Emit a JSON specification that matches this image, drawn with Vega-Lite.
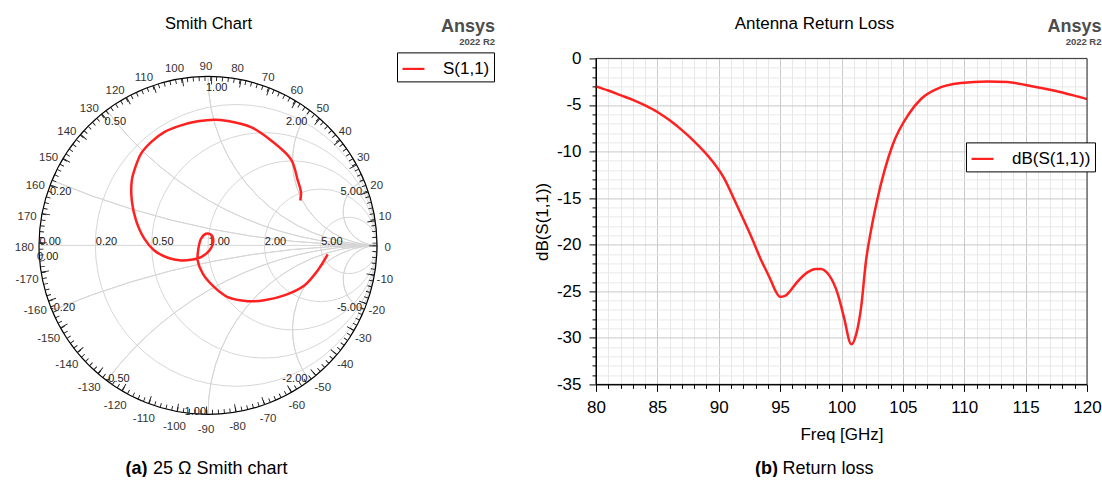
{
  "$schema": "https://vega.github.io/schema/vega-lite/v6.json",
  "padding": {"left": 14, "top": 14.4, "right": 0, "bottom": 0},
  "bounds": "flush",
  "spacing": 219,
  "config": {
    "font": "Liberation Sans",
    "view": {"stroke": null},
    "axis": {"labelFont": "Liberation Sans", "titleFont": "Liberation Sans"},
    "legend": {"labelFont": "Liberation Sans"},
    "text": {"font": "Liberation Sans"}
  },
  "resolve": {"scale": {"color": "independent"}, "legend": {"color": "independent"}},
  "datasets": {
    "smith": [
      {"n": 1, "gx": 0.708, "gy": -0.053},
      {"n": 2, "gx": 0.649, "gy": -0.148},
      {"n": 3, "gx": 0.570, "gy": -0.237},
      {"n": 4, "gx": 0.451, "gy": -0.296},
      {"n": 5, "gx": 0.333, "gy": -0.325},
      {"n": 6, "gx": 0.235, "gy": -0.330},
      {"n": 7, "gx": 0.117, "gy": -0.306},
      {"n": 8, "gx": 0.037, "gy": -0.247},
      {"n": 9, "gx": -0.031, "gy": -0.167},
      {"n": 10, "gx": -0.061, "gy": -0.089},
      {"n": 11, "gx": -0.057, "gy": -0.020},
      {"n": 12, "gx": -0.041, "gy": 0.040},
      {"n": 13, "gx": -0.012, "gy": 0.069},
      {"n": 14, "gx": 0.018, "gy": 0.063},
      {"n": 15, "gx": 0.031, "gy": 0.020},
      {"n": 16, "gx": 0.008, "gy": -0.030},
      {"n": 17, "gx": -0.041, "gy": -0.069},
      {"n": 18, "gx": -0.101, "gy": -0.085},
      {"n": 19, "gx": -0.160, "gy": -0.089},
      {"n": 20, "gx": -0.238, "gy": -0.073},
      {"n": 21, "gx": -0.318, "gy": -0.030},
      {"n": 22, "gx": -0.377, "gy": 0.040},
      {"n": 23, "gx": -0.426, "gy": 0.148},
      {"n": 24, "gx": -0.451, "gy": 0.266},
      {"n": 25, "gx": -0.451, "gy": 0.385},
      {"n": 26, "gx": -0.436, "gy": 0.444},
      {"n": 27, "gx": -0.396, "gy": 0.543},
      {"n": 28, "gx": -0.337, "gy": 0.611},
      {"n": 29, "gx": -0.259, "gy": 0.670},
      {"n": 30, "gx": -0.160, "gy": 0.710},
      {"n": 31, "gx": -0.061, "gy": 0.734},
      {"n": 32, "gx": 0.037, "gy": 0.744},
      {"n": 33, "gx": 0.117, "gy": 0.736},
      {"n": 34, "gx": 0.254, "gy": 0.700},
      {"n": 35, "gx": 0.373, "gy": 0.621},
      {"n": 36, "gx": 0.491, "gy": 0.509},
      {"n": 37, "gx": 0.531, "gy": 0.385},
      {"n": 38, "gx": 0.550, "gy": 0.315},
      {"n": 39, "gx": 0.546, "gy": 0.266}
    ],
    "rl": [
      {"f": 80.0, "db": -3.0},
      {"f": 81.0, "db": -3.45},
      {"f": 82.0, "db": -3.95},
      {"f": 83.0, "db": -4.45},
      {"f": 84.0, "db": -5.05},
      {"f": 85.0, "db": -5.75},
      {"f": 86.0, "db": -6.65},
      {"f": 87.0, "db": -7.7},
      {"f": 88.0, "db": -8.9},
      {"f": 89.4, "db": -10.9},
      {"f": 90.45, "db": -12.9},
      {"f": 91.3, "db": -15.25},
      {"f": 92.6, "db": -19.0},
      {"f": 93.4, "db": -21.5},
      {"f": 94.25, "db": -23.85},
      {"f": 94.6, "db": -24.9},
      {"f": 95.0, "db": -25.6},
      {"f": 95.4, "db": -25.5},
      {"f": 95.8, "db": -25.0},
      {"f": 96.4, "db": -24.0},
      {"f": 97.25, "db": -22.95},
      {"f": 97.9, "db": -22.6},
      {"f": 98.3, "db": -22.6},
      {"f": 99.0, "db": -23.3},
      {"f": 99.7, "db": -25.3},
      {"f": 100.2, "db": -27.8},
      {"f": 100.8, "db": -30.7},
      {"f": 101.2, "db": -29.6},
      {"f": 101.6, "db": -26.7},
      {"f": 102.0, "db": -21.7},
      {"f": 102.4, "db": -18.5},
      {"f": 102.9, "db": -15.25},
      {"f": 104.15, "db": -9.35},
      {"f": 105.5, "db": -5.94},
      {"f": 106.5, "db": -4.33},
      {"f": 107.8, "db": -3.26},
      {"f": 109.7, "db": -2.65},
      {"f": 111.9, "db": -2.47},
      {"f": 113.5, "db": -2.54},
      {"f": 115.2, "db": -2.9},
      {"f": 117.3, "db": -3.44},
      {"f": 118.9, "db": -3.97},
      {"f": 120.0, "db": -4.37}
    ],
    "angles": [
      {"a": -170, "t": "-170"}, {"a": -160, "t": "-160"}, {"a": -150, "t": "-150"}, {"a": -140, "t": "-140"},
      {"a": -130, "t": "-130"}, {"a": -120, "t": "-120"}, {"a": -110, "t": "-110"}, {"a": -100, "t": "-100"},
      {"a": -90, "t": "-90"}, {"a": -80, "t": "-80"}, {"a": -70, "t": "-70"}, {"a": -60, "t": "-60"},
      {"a": -50, "t": "-50"}, {"a": -40, "t": "-40"}, {"a": -30, "t": "-30"}, {"a": -20, "t": "-20"},
      {"a": -10, "t": "-10"}, {"a": 0, "t": "0"}, {"a": 10, "t": "10"}, {"a": 20, "t": "20"},
      {"a": 30, "t": "30"}, {"a": 40, "t": "40"}, {"a": 50, "t": "50"}, {"a": 60, "t": "60"},
      {"a": 70, "t": "70"}, {"a": 80, "t": "80"}, {"a": 90, "t": "90"}, {"a": 100, "t": "100"},
      {"a": 110, "t": "110"}, {"a": 120, "t": "120"}, {"a": 130, "t": "130"}, {"a": 140, "t": "140"},
      {"a": 150, "t": "150"}, {"a": 160, "t": "160"}, {"a": 170, "t": "170"}, {"a": 180, "t": "180"}
    ],
    "slabels": [
      {"s": "r", "gx": -1, "gy": 0, "t": "0.00"},
      {"s": "r", "gx": -0.66667, "gy": 0, "t": "0.20"},
      {"s": "r", "gx": -0.33333, "gy": 0, "t": "0.50"},
      {"s": "r", "gx": 0, "gy": 0, "t": "1.00"},
      {"s": "r", "gx": 0.33333, "gy": 0, "t": "2.00"},
      {"s": "r", "gx": 0.66667, "gy": 0, "t": "5.00"},
      {"s": "pl", "gx": -1, "gy": 0, "t": "0.00"},
      {"s": "pl", "gx": -0.92308, "gy": 0.38462, "t": "0.20"},
      {"s": "pl", "gx": -0.6, "gy": 0.8, "t": "0.50"},
      {"s": "pl", "gx": 0, "gy": 1, "t": "1.00"},
      {"s": "pr", "gx": 0.6, "gy": 0.8, "t": "2.00"},
      {"s": "pr", "gx": 0.92308, "gy": 0.38462, "t": "5.00"},
      {"s": "nl", "gx": -0.92308, "gy": -0.38462, "t": "-0.20"},
      {"s": "nl", "gx": -0.6, "gy": -0.8, "t": "-0.50"},
      {"s": "nr", "gx": 0, "gy": -1, "t": "-1.00"},
      {"s": "nr", "gx": 0.6, "gy": -0.8, "t": "-2.00"},
      {"s": "nr", "gx": 0.92308, "gy": -0.38462, "t": "-5.00"}
    ]
  },
  "hconcat": [
    {
      "width": 338,
      "height": 356,
      "resolve": {"axis": {"x": "independent", "y": "independent"}},
      "layer": [
        {
          "data": {"values": [
            {"cx": 0.16667, "cy": 0, "rad": 0.83333},
            {"cx": 0.33333, "cy": 0, "rad": 0.66667},
            {"cx": 0.5, "cy": 0, "rad": 0.5},
            {"cx": 0.66667, "cy": 0, "rad": 0.33333},
            {"cx": 0.83333, "cy": 0, "rad": 0.16667}
          ]},
          "mark": {"type": "point", "shape": "circle", "filled": false, "color": "#d6d6d6", "strokeWidth": 1, "opacity": 1},
          "encoding": {
            "x": {"field": "cx", "type": "quantitative", "scale": {"domain": [-1, 1], "nice": false, "zero": false},
              "axis": {"orient": "top", "domain": false, "ticks": false, "labels": false, "grid": false, "title": "Smith Chart", "titleX": 169, "titleY": -29.5, "titleAlign": "center", "titleBaseline": "alphabetic", "titleAngle": 0, "titleFontSize": 16.5, "titleFontWeight": "normal", "titleColor": "#000"}},
            "y": {"field": "cy", "type": "quantitative", "scale": {"domain": [-1, 1.10651], "nice": false, "zero": false}, "axis": null},
            "size": {"field": "rad", "type": "quantitative", "scale": {"type": "pow", "exponent": 2, "domain": [0, 1], "range": [0, 114244]}, "legend": null}
          }
        },
        {
          "data": {"values": [{}]},
          "mark": {"type": "rule", "color": "#d6d6d6", "strokeWidth": 1},
          "encoding": {
            "x": {"datum": -1, "type": "quantitative", "scale": {"domain": [-1, 1], "nice": false, "zero": false}, "axis": null},
            "x2": {"datum": 1},
            "y": {"datum": 0, "type": "quantitative", "scale": {"domain": [-1, 1.10651], "nice": false, "zero": false}, "axis": null}
          }
        },
        {
          "data": {"values": [
            {"cx": 1, "cy": 5, "rad": 5, "t1": -90, "t2": -112.62},
            {"cx": 1, "cy": 2, "rad": 2, "t1": -90, "t2": -143.13},
            {"cx": 1, "cy": 1, "rad": 1, "t1": -90, "t2": -180},
            {"cx": 1, "cy": 0.5, "rad": 0.5, "t1": -90, "t2": -216.87},
            {"cx": 1, "cy": 0.2, "rad": 0.2, "t1": -90, "t2": -247.38},
            {"cx": 1, "cy": -5, "rad": 5, "t1": 90, "t2": 112.62},
            {"cx": 1, "cy": -2, "rad": 2, "t1": 90, "t2": 143.13},
            {"cx": 1, "cy": -1, "rad": 1, "t1": 90, "t2": 180},
            {"cx": 1, "cy": -0.5, "rad": 0.5, "t1": 90, "t2": 216.87},
            {"cx": 1, "cy": -0.2, "rad": 0.2, "t1": 90, "t2": 247.38}
          ]},
          "mark": {"type": "arc", "filled": false, "color": "#d6d6d6", "strokeWidth": 1},
          "encoding": {
            "x": {"field": "cx", "type": "quantitative", "scale": {"domain": [-1, 1], "nice": false, "zero": false},
              "axis": {"orient": "bottom", "domain": false, "ticks": false, "labels": false, "grid": false, "title": "25 Ω Smith chart", "titleX": 113.5, "titleY": 59, "titleAlign": "left", "titleBaseline": "alphabetic", "titleAngle": 0, "titleFontSize": 18, "titleFontWeight": "normal", "titleColor": "#000"}},
            "y": {"field": "cy", "type": "quantitative", "scale": {"domain": [-1, 1.10651], "nice": false, "zero": false}, "axis": null},
            "theta": {"field": "t1", "type": "quantitative", "stack": null, "scale": {"type": "linear", "domain": [90, -270], "range": [0, 6.283185307179586]}},
            "theta2": {"field": "t2"},
            "radius": {"field": "rad", "type": "quantitative", "scale": {"type": "linear", "domain": [0, 1], "range": [0, 169]}},
            "radius2": {"field": "rad"}
          }
        },
        {
          "data": {"values": [{"cx": 0, "cy": 0, "rad": 1}]},
          "mark": {"type": "point", "shape": "circle", "filled": false, "color": "#000", "strokeWidth": 1.2, "opacity": 1},
          "encoding": {
            "x": {"field": "cx", "type": "quantitative", "scale": {"domain": [-1, 1], "nice": false, "zero": false},
              "axis": {"orient": "top", "domain": false, "ticks": false, "labels": false, "grid": false, "title": "Ansys", "titleX": 455.5, "titleY": -26.5, "titleAlign": "right", "titleBaseline": "alphabetic", "titleAngle": 0, "titleFontSize": 18, "titleFontWeight": "bold", "titleColor": "#4d4d4d"}},
            "y": {"field": "cy", "type": "quantitative", "scale": {"domain": [-1, 1.10651], "nice": false, "zero": false}, "axis": null},
            "size": {"field": "rad", "type": "quantitative", "scale": {"type": "pow", "exponent": 2, "domain": [0, 1], "range": [0, 114244]}, "legend": null}
          }
        },
        {
          "data": {"values": [{"cx": 0, "cy": 0}]},
          "mark": {"type": "point", "shape": "circle", "filled": false, "color": "#1a1a1a", "strokeWidth": 4.5, "strokeDash": [0.9, 4.9355], "opacity": 1},
          "encoding": {
            "x": {"field": "cx", "type": "quantitative", "scale": {"domain": [-1, 1], "nice": false, "zero": false},
              "axis": {"orient": "top", "domain": false, "ticks": false, "labels": false, "grid": false, "title": "2022 R2", "titleX": 455.5, "titleY": -14, "titleAlign": "right", "titleBaseline": "alphabetic", "titleAngle": 0, "titleFontSize": 9.5, "titleFontWeight": "bold", "titleColor": "#4d4d4d"}},
            "y": {"field": "cy", "type": "quantitative", "scale": {"domain": [-1, 1.10651], "nice": false, "zero": false}, "axis": null},
            "size": {"datum": 0.98669, "type": "quantitative", "scale": {"type": "pow", "exponent": 2, "domain": [0, 1], "range": [0, 114244]}, "legend": null}
          }
        },
        {
          "data": {"values": [{"cx": 0, "cy": 0}]},
          "mark": {"type": "point", "shape": "circle", "filled": false, "color": "#1a1a1a", "strokeWidth": 8, "strokeDash": [0.9, 28.0123], "opacity": 1},
          "encoding": {
            "x": {"field": "cx", "type": "quantitative", "scale": {"domain": [-1, 1], "nice": false, "zero": false},
              "axis": {"orient": "bottom", "domain": false, "ticks": false, "labels": false, "grid": false, "title": "(a)", "titleX": 86, "titleY": 59, "titleAlign": "left", "titleBaseline": "alphabetic", "titleAngle": 0, "titleFontSize": 18, "titleFontWeight": "bold", "titleColor": "#000"}},
            "y": {"field": "cy", "type": "quantitative", "scale": {"domain": [-1, 1.10651], "nice": false, "zero": false}, "axis": null},
            "size": {"datum": 0.976331, "type": "quantitative", "scale": {"type": "pow", "exponent": 2, "domain": [0, 1], "range": [0, 114244]}, "legend": null}
          }
        },
        {
          "data": {"name": "angles"},
          "mark": {"type": "text", "fontSize": 11.5, "color": "#333", "align": "center", "baseline": "middle", "dx": -2, "dy": 3},
          "encoding": {
            "x": {"datum": 0, "type": "quantitative", "scale": {"domain": [-1, 1], "nice": false, "zero": false}, "axis": null},
            "y": {"datum": 0, "type": "quantitative", "scale": {"domain": [-1, 1.10651], "nice": false, "zero": false}, "axis": null},
            "theta": {"field": "a", "type": "quantitative", "stack": null, "scale": {"type": "linear", "domain": [90, -270], "range": [0, 6.283185307179586]}},
            "radius": {"datum": 1.075, "type": "quantitative", "scale": {"type": "linear", "domain": [0, 1], "range": [0, 169]}},
            "text": {"field": "t"}
          }
        },
        {
          "data": {"name": "slabels"},
          "transform": [{"filter": "datum.s == 'r'"}],
          "mark": {"type": "text", "fontSize": 11, "color": "#1a1a1a", "align": "left", "baseline": "alphabetic", "dx": 0.5, "dy": 0},
          "encoding": {
            "x": {"field": "gx", "type": "quantitative", "scale": {"domain": [-1, 1], "nice": false, "zero": false}, "axis": null},
            "y": {"field": "gy", "type": "quantitative", "scale": {"domain": [-1, 1.10651], "nice": false, "zero": false}, "axis": null},
            "text": {"field": "t"}
          }
        },
        {
          "data": {"name": "slabels"},
          "transform": [{"filter": "datum.s == 'pl'"}],
          "mark": {"type": "text", "fontSize": 11, "color": "#1a1a1a", "align": "left", "baseline": "alphabetic", "dx": -2, "dy": 15},
          "encoding": {
            "x": {"field": "gx", "type": "quantitative", "scale": {"domain": [-1, 1], "nice": false, "zero": false}, "axis": null},
            "y": {"field": "gy", "type": "quantitative", "scale": {"domain": [-1, 1.10651], "nice": false, "zero": false}, "axis": null},
            "text": {"field": "t"}
          }
        },
        {
          "data": {"name": "slabels"},
          "transform": [{"filter": "datum.s == 'pr'"}],
          "mark": {"type": "text", "fontSize": 11, "color": "#1a1a1a", "align": "right", "baseline": "alphabetic", "dx": -2, "dy": 15},
          "encoding": {
            "x": {"field": "gx", "type": "quantitative", "scale": {"domain": [-1, 1], "nice": false, "zero": false}, "axis": null},
            "y": {"field": "gy", "type": "quantitative", "scale": {"domain": [-1, 1.10651], "nice": false, "zero": false}, "axis": null},
            "text": {"field": "t"}
          }
        },
        {
          "data": {"name": "slabels"},
          "transform": [{"filter": "datum.s == 'nl'"}],
          "mark": {"type": "text", "fontSize": 11, "color": "#1a1a1a", "align": "left", "baseline": "alphabetic", "dx": -2, "dy": 1},
          "encoding": {
            "x": {"field": "gx", "type": "quantitative", "scale": {"domain": [-1, 1], "nice": false, "zero": false}, "axis": null},
            "y": {"field": "gy", "type": "quantitative", "scale": {"domain": [-1, 1.10651], "nice": false, "zero": false}, "axis": null},
            "text": {"field": "t"}
          }
        },
        {
          "data": {"name": "slabels"},
          "transform": [{"filter": "datum.s == 'nr'"}],
          "mark": {"type": "text", "fontSize": 11, "color": "#1a1a1a", "align": "right", "baseline": "alphabetic", "dx": -2, "dy": 1},
          "encoding": {
            "x": {"field": "gx", "type": "quantitative", "scale": {"domain": [-1, 1], "nice": false, "zero": false}, "axis": null},
            "y": {"field": "gy", "type": "quantitative", "scale": {"domain": [-1, 1.10651], "nice": false, "zero": false}, "axis": null},
            "text": {"field": "t"}
          }
        },
        {
          "data": {"name": "smith"},
          "mark": {"type": "line", "strokeWidth": 2.5, "interpolate": "catmull-rom"},
          "encoding": {
            "x": {"field": "gx", "type": "quantitative", "scale": {"domain": [-1, 1], "nice": false, "zero": false}, "axis": null},
            "y": {"field": "gy", "type": "quantitative", "scale": {"domain": [-1, 1.10651], "nice": false, "zero": false}, "axis": null},
            "order": {"field": "n", "type": "quantitative"},
            "color": {"datum": "S(1,1)", "scale": {"range": ["#ff2020"]},
              "legend": {"orient": "none", "legendX": 358, "legendY": -6, "title": null, "symbolType": "stroke", "symbolStrokeWidth": 2.2, "symbolSize": 480, "labelFontSize": 17, "labelColor": "#000", "labelOffset": 17, "padding": 4, "strokeColor": "#000", "fillColor": "#fff"}}
          }
        }
      ]
    },
    {
      "width": 491,
      "height": 326,
      "resolve": {"axis": {"x": "independent", "y": "independent"}},
      "layer": [
        {
          "data": {"name": "rl"},
          "mark": {"type": "line", "strokeWidth": 2.5, "interpolate": "monotone"},
          "encoding": {
            "x": {"field": "f", "type": "quantitative", "scale": {"domain": [80, 120], "nice": false, "zero": false},
              "axis": {"orient": "bottom", "values": [80,81,82,83,84,85,86,87,88,89,90,91,92,93,94,95,96,97,98,99,100,101,102,103,104,105,106,107,108,109,110,111,112,113,114,115,116,117,118,119,120],
                "labelExpr": "datum.value % 5 == 0 ? '' + datum.value : ''", "labelFontSize": 17, "labelColor": "#000", "labelPadding": 8, "labelFlush": false, "labelOverlap": false,
                "tickSize": {"condition": {"test": "datum.value % 5 == 0", "value": 7}, "value": 4}, "tickColor": "#000", "domainColor": "#000",
                "grid": true, "gridColor": {"condition": {"test": "datum.value % 5 == 0", "value": "#c8c8c8"}, "value": "#e8e8e8"},
                "title": "Freq [GHz]", "titleX": 245.5, "titleY": 55, "titleAlign": "center", "titleBaseline": "alphabetic", "titleFontSize": 17, "titleFontWeight": "normal", "titleColor": "#000"}},
            "y": {"field": "db", "type": "quantitative", "scale": {"domain": [-35, 0], "nice": false, "zero": false},
              "axis": {"orient": "left", "values": [-35,-34,-33,-32,-31,-30,-29,-28,-27,-26,-25,-24,-23,-22,-21,-20,-19,-18,-17,-16,-15,-14,-13,-12,-11,-10,-9,-8,-7,-6,-5,-4,-3,-2,-1,0],
                "labelExpr": "datum.value % 5 == 0 ? '' + datum.value : ''", "labelFontSize": 17, "labelColor": "#000", "labelPadding": 8, "labelFlush": false, "labelOverlap": false,
                "tickSize": {"condition": {"test": "datum.value % 5 == 0", "value": 7}, "value": 4}, "tickColor": "#000", "domainColor": "#000",
                "grid": true, "gridColor": {"condition": {"test": "datum.value % 5 == 0", "value": "#c8c8c8"}, "value": "#e8e8e8"},
                "title": "dB(S(1,1))", "titleX": -54, "titleY": 163, "titleAlign": "center", "titleBaseline": "middle", "titleFontSize": 17, "titleFontWeight": "normal", "titleColor": "#000"}},
            "color": {"datum": "dB(S(1,1))", "scale": {"range": ["#ff2020"]},
              "legend": {"orient": "none", "legendX": 370, "legendY": 84, "title": null, "symbolType": "stroke", "symbolStrokeWidth": 2.2, "symbolSize": 480, "labelFontSize": 17, "labelColor": "#000", "labelOffset": 17, "padding": 4, "strokeColor": "#000", "fillColor": "#fff"}}
          }
        },
        {
          "data": {"values": [{}]},
          "mark": {"type": "rule", "color": "#333", "strokeWidth": 1},
          "encoding": {
            "x": {"datum": 80, "type": "quantitative", "scale": {"domain": [80, 120], "nice": false, "zero": false},
              "axis": {"orient": "top", "domain": false, "ticks": false, "labels": false, "grid": false, "title": "Antenna Return Loss", "titleX": 218, "titleY": -29.5, "titleAlign": "center", "titleBaseline": "alphabetic", "titleAngle": 0, "titleFontSize": 17, "titleFontWeight": "normal", "titleColor": "#000"}},
            "x2": {"datum": 120},
            "y": {"datum": 0, "type": "quantitative", "scale": {"domain": [-35, 0], "nice": false, "zero": false},
              "axis": {"orient": "left", "domain": false, "ticks": false, "labels": false, "grid": false, "title": "2022 R2", "titleX": 505, "titleY": -14, "titleAlign": "right", "titleBaseline": "alphabetic", "titleAngle": 0, "titleFontSize": 9.5, "titleFontWeight": "bold", "titleColor": "#4d4d4d"}}
          }
        },
        {
          "data": {"values": [{}]},
          "mark": {"type": "rule", "color": "#333", "strokeWidth": 1},
          "encoding": {
            "x": {"datum": 120, "type": "quantitative", "scale": {"domain": [80, 120], "nice": false, "zero": false},
              "axis": {"orient": "top", "domain": false, "ticks": false, "labels": false, "grid": false, "title": "Ansys", "titleX": 505, "titleY": -26.5, "titleAlign": "right", "titleBaseline": "alphabetic", "titleAngle": 0, "titleFontSize": 18, "titleFontWeight": "bold", "titleColor": "#4d4d4d"}},
            "y": {"datum": -35, "type": "quantitative", "scale": {"domain": [-35, 0], "nice": false, "zero": false}, "axis": null},
            "y2": {"datum": 0}
          }
        },
        {
          "data": {"values": [{}]},
          "mark": {"type": "rule", "color": "#000", "strokeWidth": 1},
          "encoding": {
            "x": {"datum": 80, "type": "quantitative", "scale": {"domain": [80, 120], "nice": false, "zero": false},
              "axis": {"orient": "bottom", "domain": false, "ticks": false, "labels": false, "grid": false, "title": "(b)", "titleX": 158.5, "titleY": 89, "titleAlign": "left", "titleBaseline": "alphabetic", "titleAngle": 0, "titleFontSize": 18, "titleFontWeight": "bold", "titleColor": "#000"}},
            "x2": {"datum": 120},
            "y": {"datum": -35, "type": "quantitative", "scale": {"domain": [-35, 0], "nice": false, "zero": false}, "axis": null}
          }
        },
        {
          "data": {"values": [{}]},
          "mark": {"type": "rule", "color": "#000", "strokeWidth": 1},
          "encoding": {
            "x": {"datum": 80, "type": "quantitative", "scale": {"domain": [80, 120], "nice": false, "zero": false},
              "axis": {"orient": "bottom", "domain": false, "ticks": false, "labels": false, "grid": false, "title": "Return loss", "titleX": 186, "titleY": 89, "titleAlign": "left", "titleBaseline": "alphabetic", "titleAngle": 0, "titleFontSize": 18, "titleFontWeight": "normal", "titleColor": "#000"}},
            "y": {"datum": -35, "type": "quantitative", "scale": {"domain": [-35, 0], "nice": false, "zero": false}, "axis": null},
            "y2": {"datum": 0}
          }
        }
      ]
    }
  ]
}
